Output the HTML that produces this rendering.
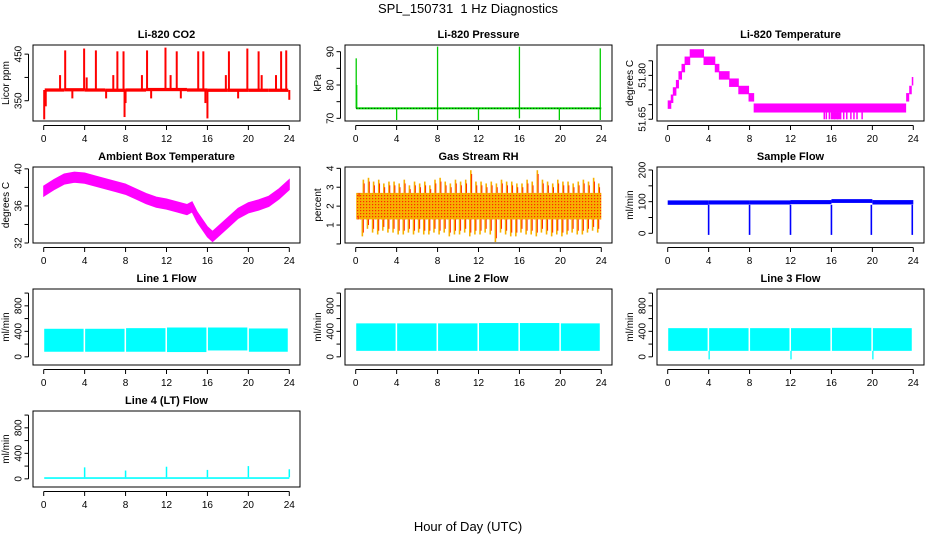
<!DOCTYPE html>
<html><head><meta charset="utf-8"><style>
html,body{margin:0;padding:0;background:#fff;}
svg{display:block;font-family:"Liberation Sans",sans-serif;}
</style></head><body>
<svg id="chart" width="936" height="540" viewBox="0 0 936 540" xmlns="http://www.w3.org/2000/svg">
<defs>
<pattern id="rhpat" width="3" height="3" patternUnits="userSpaceOnUse">
<rect width="3" height="3" fill="#f7b000"></rect><rect x="0" y="0" width="1.2" height="1.2" fill="#ff2a00"></rect>
</pattern>
</defs>
<text x="468" y="13" font-size="13" text-anchor="middle">SPL_150731&#160; 1 Hz Diagnostics</text>
<text x="468" y="531" font-size="13" text-anchor="middle">Hour of Day (UTC)</text>
</svg>
<script>
// ---------- data ----------
const hourTicks = [0,4,8,12,16,20,24];
// CO2
const co2BaseHours = [0.1,2,4,6,8,10,12,14,16,18,20,22,23.9];
const co2BaseLo = [369,370,370,369,369,370,371,370,369,369,369,369,369];
const co2BaseHi = [376,377,377,376,376,377,378,377,376,376,376,376,376];
const co2SpikeHours = [2.1,3.95,5.1,7.2,7.8,10.1,11.9,13.0,15.1,15.6,18.1,19.9,21.0,23.2,23.7,1.6,4.2,6.8,9.6,12.4,17.8,21.3,22.7,0.05,0.2,7.9,8.0,16.0,15.8,2.8,6.1,10.5,13.4,19.0,24.0];
const co2SpikeVals  = [458,462,458,456,456,458,464,456,456,456,456,462,456,456,458,405,400,405,405,405,405,405,405,310,338,315,345,312,345,355,355,355,355,355,352];
// Pressure
const presBase = 73;
const presSpikeHours = [0.05,0.1,8.0,16.0,23.9,4.0,8.0,12.0,16.0,19.9,23.9];
const presSpikeVals  = [88,80,91.5,91.5,91,69.5,69.5,69.5,70,69.5,69.5];
// Li-820 temperature (step levels)
const ltHours = [0.0,0.3,0.5,0.8,1.05,1.35,1.65,2.15,3.5,4.2,4.6,5.0,6.0,6.9,7.9,8.4];
const ltVals  = [51.70,51.72,51.745,51.77,51.80,51.825,51.85,51.875,51.85,51.85,51.825,51.80,51.775,51.75,51.725];
const ltEndHours = [23.3,23.6,23.85,24.0];
const ltEndVals = [51.725,51.75,51.78];
const ltBandHours = [8.4,23.3];
const ltBandLo = 51.673, ltBandHi = 51.704;
const ltDipHours = [15.3,15.5,15.8,16,16.3,16.6,16.9,17.2,17.5,17.9,18.2,18.5,19.0];
const ltDipVals = 51.65;
// Ambient box temperature
const ambHours = [0,1,2,3,4,5,6,7,8,9,10,11,12,13,14,14.5,15,16,16.5,17,18,19,20,21,22,23,24];
const ambMid   = [37.6,38.3,38.9,39.1,39.0,38.7,38.4,38.1,37.8,37.3,36.8,36.4,36.2,35.9,35.6,35.9,34.8,33.2,32.7,33.2,34.2,35.2,35.8,36.1,36.5,37.3,38.3];
const ambHalf = 0.55;
// Gas stream RH
const rhCoreLo = 1.3, rhCoreHi = 2.7;
const rhHigh = [2.7,3.4,3.5,3.3,3.4,3.2,3.3,3.3,3.2,3.4,3.1,3.3,3.2,3.3,3.1,3.4,3.5,3.3,3.2,3.4,3.3,3.4,3.9,3.3,3.3,3.2,3.3,3.2,3.4,3.3,3.3,3.2,3.2,3.4,3.3,3.9,3.4,3.3,3.2,3.4,3.3,3.3,3.2,3.3,3.4,3.3,3.5,3.2];
const rhLow  = [1.3,0.4,0.8,0.6,0.5,0.7,0.6,0.6,0.5,0.5,0.6,0.5,0.6,0.5,0.5,0.6,0.5,0.6,0.4,0.5,0.5,0.6,0.4,0.5,0.5,0.6,0.5,0.1,0.6,0.5,0.4,0.4,0.6,0.5,0.5,0.4,0.6,0.5,0.4,0.5,0.4,0.5,0.6,0.5,0.5,0.6,0.7,0.6];
// Sample flow
const sfHours = [0,4,8,12,16,20,24];
const sfLo = [90,91,91,92,96,91,91];
const sfHi = [104,104,104,105,108,105,104];
const sfDipHours = [4,8,12,16,19.9,23.9];
const sfDipVals = [-5,-5,-5,-5,-5,-5];
// Line flows (4 h segments)
const segStart = [0.05,4.05,8.05,12.05,16.05,20.05];
const segEnd   = [3.9,7.9,11.9,15.9,19.9,23.85];
const l1Lo = [80,80,80,75,100,80];
const l1Hi = [440,440,450,460,460,445];
const l2Lo = [94,94,94,94,94,94];
const l2Hi = [525,525,525,530,530,525];
const l3Lo = [94,94,94,94,94,94];
const l3Hi = [450,450,450,450,455,450];
const l3DipHours = [4,12,20];
const l3DipVals = [-40,-40,-40];
// Line 4
const l4SpikeHours = [4,8,12,16,20,24];
const l4SpikeVals = [180,130,190,140,200,150];
const l4Base = [0,25];

// ---------- helpers ----------
const NS = "http://www.w3.org/2000/svg";
const svg = document.getElementById('chart');
function mk(tag, attrs, parent){
  const e = document.createElementNS(NS, tag);
  for (const k in attrs) e.setAttribute(k, attrs[k]);
  (parent||svg).appendChild(e);
  return e;
}
const colLeft = [33,345,657], rowTop = [45,167,289,411];
const BW = 267, BH = 76;

function panel(name, c, r, title, ylab, ymin, ymax, ticks, labels){
  const L = colLeft[c], T = rowTop[r];
  const g = mk('g', {});
  
  
  const xs = h => L + 10.7 + h/24*(BW-21.4);
  const ys = v => T + BH - (v - ymin)/(ymax - ymin)*BH;
  const marks = mk('g', {}, g);
  
  
  const box = mk('rect', {x:L, y:T, width:BW, height:BH, fill:'none', stroke:'#000', 'stroke-width':1}, g);
  
  
  const tt = mk('text', {x:L+BW/2, y:T-7, 'font-size':11, 'font-weight':'bold', 'text-anchor':'middle'}, g);
  tt.textContent = title;
  
  
  const yl = mk('text', {x:0, y:0, 'font-size':10, 'text-anchor':'middle', transform:`translate(${L-24},${T+BH/2}) rotate(-90)`}, g);
  yl.textContent = ylab;
  
  
  mk('line', {x1:xs(0), x2:xs(24), y1:T+BH+4.5, y2:T+BH+4.5, stroke:'#000'}, g);
  hourTicks.forEach(h=>{
    mk('line', {x1:xs(h), x2:xs(h), y1:T+BH+4.5, y2:T+BH+9, stroke:'#000'}, g);
    const t = mk('text', {x:xs(h), y:T+BH+21, 'font-size':10, 'text-anchor':'middle'}, g);
    t.textContent = h;
    
    
  });
  const ax = L - 4.5;
  mk('line', {x1:ax, x2:ax, y1:ys(ticks[0]), y2:ys(ticks[ticks.length-1]), stroke:'#000'}, g);
  ticks.forEach(v=>{
    mk('line', {x1:ax-4, x2:ax, y1:ys(v), y2:ys(v), stroke:'#000'}, g);
  });
  labels.forEach(v=>{
    const t = mk('text', {x:0, y:0, 'font-size':10, 'text-anchor':'middle', transform:`translate(${ax-7},${ys(parseFloat(v))}) rotate(-90)`}, g);
    t.textContent = v;
    
    
  });
  return {xs, ys, marks};
}
function vline(p, h, v1, v2, color, w){
  mk('line', {x1:p.xs(h), x2:p.xs(h), y1:p.ys(v1), y2:p.ys(v2), stroke:color, 'stroke-width':w||1.3}, p.marks);
}
function band(p, h1, h2, lo, hi, color){
  const y1 = p.ys(hi), y2 = p.ys(lo);
  mk('rect', {x:p.xs(h1), y:y1, width:p.xs(h2)-p.xs(h1), height:Math.max(1,y2-y1), fill:color}, p.marks);
}

// ---------- CO2 ----------
{
  const p = panel('co2',0,0,'Li-820 CO2','Licor ppm',306.5,469.6,[350,400,450],['350','450']);
  for (let i=0;i<co2BaseHours.length-1;i++) band(p, co2BaseHours[i], co2BaseHours[i+1], (co2BaseLo[i]+co2BaseLo[i+1])/2, (co2BaseHi[i]+co2BaseHi[i+1])/2, '#ff0000');
  co2SpikeHours.forEach((h,i)=>vline(p,h,373,co2SpikeVals[i],'#ff0000',2));
}
// ---------- Pressure ----------
{
  const p = panel('pressure',1,0,'Li-820 Pressure','kPa',69.2,92.0,[70,75,80,85,90],['70','80','90']);
  band(p,0.05,24,presBase-0.3,presBase+0.3,'#00dd00');
  presSpikeHours.forEach((h,i)=>vline(p,h,presBase,presSpikeVals[i],'#00cc00',1.3));
  mk('line',{x1:p.xs(0.05),x2:p.xs(24),y1:p.ys(presBase),y2:p.ys(presBase),stroke:'#000','stroke-width':0.8,'stroke-dasharray':'1 2'},p.marks);
}
// ---------- Li temperature ----------
{
  const p = panel('li-temperature',2,0,'Li-820 Temperature','degrees C',51.644,51.904,[51.65,51.70,51.75,51.80,51.85],['51.65','51.80']);
  for (let i=0;i<ltVals.length;i++) band(p, ltHours[i], ltHours[i+1]+0.05, ltVals[i]-0.0145, ltVals[i]+0.0145, '#ff00ff');
  for (let i=0;i<ltEndVals.length;i++) band(p, ltEndHours[i], ltEndHours[i+1], ltEndVals[i]-0.0145, ltEndVals[i]+0.0145, '#ff00ff');
  band(p, ltBandHours[0], ltBandHours[1], ltBandLo, ltBandHi, '#ff00ff');
  ltDipHours.forEach(h=>vline(p,h,ltBandLo,ltDipVals,'#ff00ff',1.5));
  band(p, 16, 16.9, ltDipVals, ltBandLo, '#ff00ff');
}
// ---------- Ambient ----------
{
  const p = panel('ambient-temperature',0,1,'Ambient Box Temperature','degrees C',32.0,40.2,[32,34,36,38,40],['32','36','40']);
  let d = 'M';
  ambHours.forEach((h,i)=>{ d += (i?' L':'') + p.xs(h) + ' ' + p.ys(ambMid[i]+ambHalf); });
  for (let i=ambHours.length-1;i>=0;i--) d += ' L' + p.xs(ambHours[i]) + ' ' + p.ys(ambMid[i]-ambHalf);
  mk('path',{d:d+' Z',fill:'#ff00ff',stroke:'#ff00ff','stroke-width':1},p.marks);
}
// ---------- RH ----------
{
  const p = panel('gas-rh',1,1,'Gas Stream RH','percent',0.05,4.07,[0,1,2,3,4],['1','2','3','4']);
  mk('rect',{x:p.xs(0.05),y:p.ys(rhCoreHi),width:p.xs(24)-p.xs(0.05),height:p.ys(rhCoreLo)-p.ys(rhCoreHi),fill:'url(#rhpat)'},p.marks);
  rhHigh.forEach((v,i)=>{ const h=(i+0.5)*0.5; vline(p,h,rhCoreHi,v,'#f7b000',1.6); vline(p,h+0.08,rhCoreHi,v-0.2,'#ff2a00',1); });
  rhLow.forEach((v,i)=>{ const h=(i+0.3)*0.5; vline(p,h,v,rhCoreLo,'#f7b000',1.6); vline(p,h+0.1,v+0.2,rhCoreLo,'#ff2a00',1); });
}
// ---------- Sample flow ----------
{
  const p = panel('sample-flow',2,1,'Sample Flow','ml/min',-30.6,209.5,[0,50,100,150,200],['0','100','200']);
  for (let i=0;i<sfHours.length-1;i++) band(p, sfHours[i], sfHours[i+1], sfLo[i], sfHi[i], '#0000ff');
  sfDipHours.forEach((h,i)=>vline(p,h,sfLo[0],sfDipVals[i],'#0000ff',1.6));
}
// ---------- Line flows ----------
function flowPanel(name,c,r,title,lo,hi){
  const p = panel(name,c,r,title,'ml/min',-128,1064,[0,200,400,600,800,1000],['0','400','800']);
  segStart.forEach((s,i)=>band(p, s, segEnd[i], lo[i], hi[i], '#00ffff'));
  return p;
}
flowPanel('line1-flow',0,2,'Line 1 Flow',l1Lo,l1Hi);
flowPanel('line2-flow',1,2,'Line 2 Flow',l2Lo,l2Hi);
{
  const p = flowPanel('line3-flow',2,2,'Line 3 Flow',l3Lo,l3Hi);
  l3DipHours.forEach((h,i)=>vline(p,h+0.05,l3Lo[0],l3DipVals[i],'#00ffff',1.3));
}
{
  const p = panel('line4-flow',0,3,'Line 4 (LT) Flow','ml/min',-128,1064,[0,200,400,600,800,1000],['0','400','800']);
  band(p,0.05,24,l4Base[0],l4Base[1],'#00ffff');
  l4SpikeHours.forEach((h,i)=>vline(p,h,l4Base[1],l4SpikeVals[i],'#00ffff',1.5));
}
</script>
</body></html>
